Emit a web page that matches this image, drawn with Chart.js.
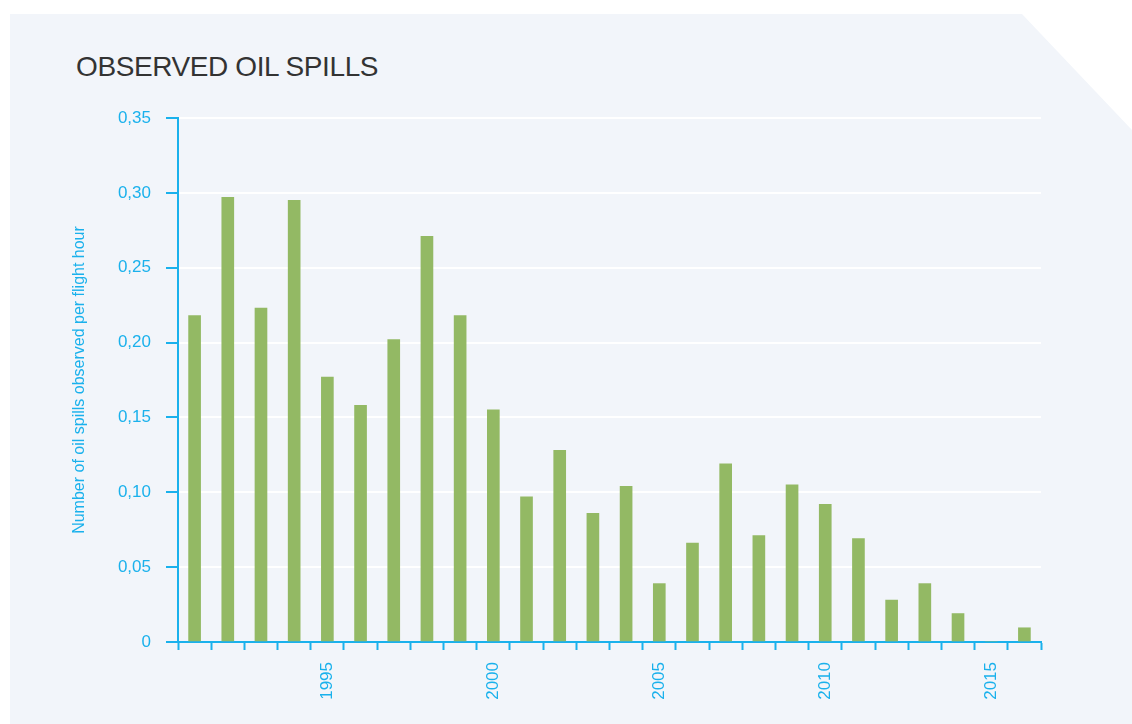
<!DOCTYPE html>
<html>
<head>
<meta charset="utf-8">
<script src="https://cdn.jsdelivr.net/npm/chart.js@4.4.0/dist/chart.umd.min.js"></script>
<style>
  html, body { margin: 0; padding: 0; background: #fff; }
  body { width: 1132px; height: 724px; position: relative; overflow: hidden; }
  .panel {
    position: absolute; left: 10px; top: 14px; width: 1122px; height: 710px;
    background: #f2f5fa;
    clip-path: polygon(0 0, 1012px 0, 1122px 116px, 1122px 710px, 0 710px);
  }
  .title {
    position: absolute; left: 76px; top: 51px;
    font-family: "Liberation Sans", Arial, sans-serif; font-size: 28px;
    color: #333; letter-spacing: -0.4px;
  }
  #wrap { position: absolute; left: 0; top: 0; width: 1132px; height: 724px; }
</style>
</head>
<body>
<div class="panel"></div>
<div class="title">OBSERVED OIL SPILLS</div>
<div id="wrap"><canvas id="chart"></canvas></div>
<script>
// ---- Data ----
const YEARS = [1991, 1992, 1993, 1994, 1995, 1996, 1997, 1998, 1999, 2000,
               2001, 2002, 2003, 2004, 2005, 2006, 2007, 2008, 2009, 2010,
               2011, 2012, 2013, 2014, 2015, 2016];
const SPILLS_PER_HOUR = [0.218, 0.297, 0.223, 0.295, 0.177, 0.158, 0.202, 0.271, 0.218, 0.155,
                         0.097, 0.128, 0.086, 0.104, 0.039, 0.066, 0.119, 0.071, 0.105, 0.092,
                         0.069, 0.028, 0.039, 0.019, 0, 0.0095];
const LABELED_YEARS = [1995, 2000, 2005, 2010, 2015];
const Y_MAX = 0.35, Y_STEP = 0.05;

const BLUE = "#1ab1ec";
const GREEN = "#93b964";
const FONT = "'Liberation Sans', Arial, sans-serif";

const fmtTick = (v) => v === 0 ? "0" : v.toFixed(2).replace(".", ",");

new Chart(document.getElementById("chart"), {
  type: "bar",
  data: {
    labels: YEARS.map(String),
    datasets: [{
      label: "Oil spills per flight hour",
      data: SPILLS_PER_HOUR,
      backgroundColor: GREEN,
      barThickness: 12
    }]
  },
  options: {
    responsive: true,
    maintainAspectRatio: false,
    animation: false,
    layout: { padding: { left: 0, top: 118, right: 91, bottom: 0 } },
    plugins: { legend: { display: false }, tooltip: { enabled: false } },
    scales: {
      x: {
        grid: { offset: true, drawOnChartArea: false, tickColor: BLUE, tickLength: 8, tickWidth: 2 },
        border: { color: BLUE, width: 2 },
        ticks: {
          autoSkip: false, maxRotation: 90, minRotation: 90, padding: 12,
          color: BLUE, font: { family: FONT, size: 17 },
          callback: (v, i) => LABELED_YEARS.includes(YEARS[i]) ? String(YEARS[i]) : ""
        },
        afterFit: (s) => { s.height = 82; }
      },
      y: {
        min: 0, max: Y_MAX,
        grid: { color: "#ffffff", lineWidth: 2, tickColor: BLUE, tickLength: 12, tickWidth: 2 },
        border: { color: BLUE, width: 2 },
        ticks: {
          stepSize: Y_STEP, padding: 15, color: BLUE, font: { family: FONT, size: 17 },
          callback: (v) => fmtTick(v)
        },
        title: {
          display: true, text: "Number of oil spills observed per flight hour",
          color: BLUE, font: { family: FONT, size: 16 }, padding: { top: 70, bottom: 0 }
        },
        afterFit: (s) => { s.width = 178; }
      }
    }
  }
});
</script>
</body>
</html>
